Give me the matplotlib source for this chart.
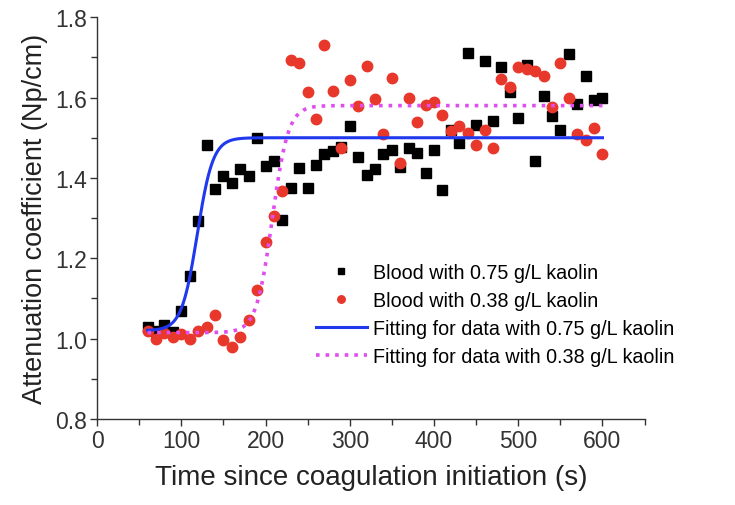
import numpy as np
import matplotlib
matplotlib.use('Agg')
import matplotlib.pyplot as plt
import matplotlib.ticker as ticker

plt.rcParams['font.family'] = ['Liberation Sans', 'DejaVu Sans']

# measured data, one point every 10 s
time_s = list(range(60, 610, 10))

atten_075 = [1.03, 1.02, 1.034, 1.016, 1.068, 1.155, 1.293, 1.483, 1.372, 1.404,
             1.387, 1.422, 1.405, 1.50, 1.43, 1.443, 1.295, 1.376, 1.424, 1.375,
             1.432, 1.459, 1.466, 1.478, 1.53, 1.453, 1.408, 1.422, 1.459, 1.47,
             1.428, 1.474, 1.462, 1.412, 1.469, 1.37, 1.519, 1.487, 1.71, 1.531,
             1.69, 1.542, 1.677, 1.614, 1.549, 1.681, 1.443, 1.603, 1.554, 1.52,
             1.708, 1.584, 1.654, 1.594, 1.598]

atten_038 = [1.02, 1.0, 1.013, 1.005, 1.011, 1.0, 1.02, 1.03, 1.06, 0.996,
             0.98, 1.003, 1.047, 1.12, 1.24, 1.305, 1.368, 1.694, 1.687, 1.614,
             1.546, 1.73, 1.617, 1.474, 1.644, 1.579, 1.679, 1.596, 1.509, 1.648,
             1.437, 1.599, 1.538, 1.581, 1.59, 1.557, 1.517, 1.528, 1.511, 1.482,
             1.519, 1.474, 1.647, 1.627, 1.676, 1.671, 1.665, 1.654, 1.577, 1.686,
             1.599, 1.509, 1.494, 1.524, 1.459]

# Boltzmann fit parameters (A1, A2, x0, dx)
fit_075 = (1.02, 1.50, 119.0, 9.3)
fit_038 = (1.015, 1.58, 208.0, 9.5)

labels = ['Blood with 0.75 g/L kaolin',
          'Blood with 0.38 g/L kaolin',
          'Fitting for data with 0.75 g/L kaolin',
          'Fitting for data with 0.38 g/L kaolin']


def boltzmann(x, a1, a2, x0, dx):
    return a2 + (a1 - a2) / (1 + np.exp((x - x0) / dx))


fig = plt.figure(figsize=(7.35, 5.06), dpi=100)
ax = fig.add_axes([0.132, 0.170, 0.745, 0.794])

t_fit = np.linspace(60, 600, 600)

ax.plot(time_s, atten_075, 's', color='black', markersize=6.5, label=labels[0], zorder=3)
ax.plot(time_s, atten_038, 'o', color='#e8372b', markersize=7.5, label=labels[1], zorder=3)
ax.plot(t_fit, boltzmann(t_fit, *fit_075), '-', color='#2038ee', lw=2.2, label=labels[2], zorder=4)
ax.plot(t_fit, boltzmann(t_fit, *fit_038), ':', color='#e04ef0', lw=2.6, label=labels[3], zorder=4)

ax.set_xlim(0, 650)
ax.set_ylim(0.8, 1.8)
ax.xaxis.set_major_locator(ticker.MultipleLocator(100))
ax.xaxis.set_minor_locator(ticker.MultipleLocator(50))
ax.yaxis.set_major_locator(ticker.MultipleLocator(0.2))
ax.yaxis.set_minor_locator(ticker.MultipleLocator(0.1))
ax.yaxis.set_major_formatter(ticker.FormatStrFormatter('%.1f'))

ax.spines['top'].set_visible(False)
ax.spines['right'].set_visible(False)
for s in ('left', 'bottom'):
    ax.spines[s].set_linewidth(1.0)
    ax.spines[s].set_color('#333333')

ax.tick_params(which='major', direction='out', length=5, width=1, labelsize=16.5,
               colors='#333333', pad=2)
ax.tick_params(which='minor', direction='out', length=4, width=1, colors='#333333')

ax.set_xlabel('Time since coagulation initiation (s)', fontsize=20, color='#222222', labelpad=9)
ax.set_ylabel('Attenuation coefficient (Np/cm)', fontsize=19.5, color='#222222', labelpad=5)

ax.legend(loc='center left', bbox_to_anchor=(0.367, 0.26), frameon=False, fontsize=14.2,
          handlelength=2.6, handletextpad=0.3, labelspacing=0.45, markerscale=0.72)

plt.savefig('out.png', dpi=100)
